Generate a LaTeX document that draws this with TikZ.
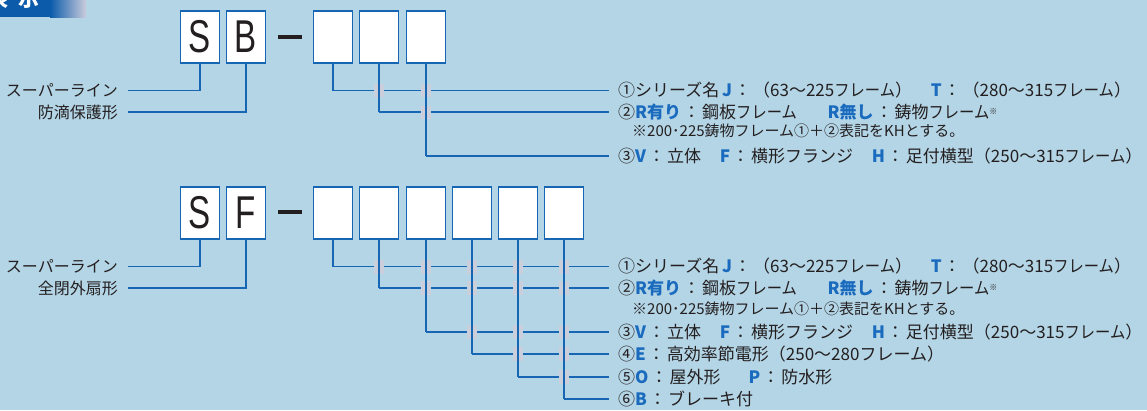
\documentclass[tikz,border=0pt]{standalone}
\usepackage{fontspec}
\setmainfont{Noto Sans CJK JP}
\newfontfamily\boxfont{Liberation Sans}
\definecolor{bg}{HTML}{B4D5E6}
\definecolor{lineblue}{HTML}{1766B4}
\definecolor{letterblue}{HTML}{1A6BBE}
\definecolor{bridgegray}{HTML}{CBCFDC}
\definecolor{txt}{HTML}{231F20}
\definecolor{bannerblue}{HTML}{0B5BAA}
\definecolor{bannerend}{HTML}{CACCDC}
\newcommand{\bl}[1]{{\color{letterblue}\bfseries #1}}
\newcommand{\boxtxt}[1]{\scalebox{0.72}[1]{\boxfont\fontsize{46}{46}\selectfont #1}}
\newcommand{\gap}[1]{\hspace{#1em}}
\newcommand{\cl}{\hspace{2pt}：\hspace{2pt}}
\newcommand{\fr}{\scalebox{0.9}[1]{フレーム}}
\newcommand{\supmark}{\raisebox{4pt}{\fontsize{8}{8}\selectfont ※}}
\begin{document}
\begin{tikzpicture}[x=1pt,y=-1pt,
  lbox/.style={draw=lineblue, line width=1.6pt, fill=white, minimum width=39pt, minimum height=52pt, inner sep=0pt, text=txt},
  dashbar/.style={fill=txt, draw=none, minimum width=24pt, minimum height=4pt, inner sep=0pt},
  conn/.style={draw=lineblue, line width=1.8pt},
  bridge/.style={fill=bridgegray, draw=none},
  rlabel/.style={anchor=west, inner xsep=9pt, inner ysep=0pt, text height=12.5pt, text depth=0pt, text=txt, font=\fontsize{17}{17}\selectfont},
  llabel/.style={anchor=east, inner xsep=10pt, inner ysep=0pt, text height=12pt, text depth=0pt, text=txt, font=\fontsize{16}{16}\selectfont},
  note/.style={anchor=west, inner sep=0pt, text=txt, font=\fontsize{15}{15}\selectfont}
]
\useasboundingbox (0,0) rectangle (1147,410);
\fill[bg] (0,0) rectangle (1147,410);
% banner
\begin{scope}
\clip (0,0) rectangle (1147,410);
\fill[bannerblue] (0,0) rectangle (50,17);
\shade[left color=bannerblue, right color=bannerend] (50,0) rectangle (86,17);
\node[anchor=base west, inner sep=0pt, text=white, font=\fontsize{21}{21}\selectfont\bfseries] (ban) at (-13,6) {表\hspace{10pt}示};
\end{scope}

% ---------------- top: SB ----------------
\node[lbox] (s1) at (200,37) {\boxtxt{S}};
\node[lbox] (b1) at (246,37) {\boxtxt{B}};
\node[dashbar] (d1) at (290,37) {};
\node[lbox] (t1) at (333,37) {};
\node[lbox] (t2) at (379,37) {};
\node[lbox] (t3) at (426,37) {};

\node[llabel] (la1) at (128,90.5) {スーパーライン};
\node[llabel] (la2) at (128,112) {防滴保護形};

\node[rlabel] (ra1) at (609,90.5) {①シリーズ名\,\bl{J}\cl（63〜225\fr）\gap{1.1}\bl{T}\cl（280〜315\fr）};
\node[rlabel] (ra2) at (609,112) {②\bl{R有り}\cl 鋼板\fr\gap{1.8}\bl{R無し}\cl 鋳物\fr\supmark};
\node[note] (na) at (632,131) {※200･225鋳物フレーム①＋②表記をKHとする。};
\node[rlabel] (ra3) at (609,156) {③\bl{V}\cl 立体\gap{1.1}\bl{F}\cl 横形フランジ\gap{1.1}\bl{H}\cl 足付横型（250〜315\fr）};

\draw[conn] (la1.east) -| (s1.south);
\draw[conn] (la2.east) -| (b1.south);
% horizontals
\draw[conn] (t1.south |- ra1.west) -- (ra1.west);
\draw[conn] (t2.south |- ra2.west) -- (ra2.west);
\draw[conn] (t3.south |- ra3.west) -- (ra3.west);
% bridges
\fill[bridge] (t2.south |- ra1.west) ++(-5,-6.5) rectangle ++(10,13);
\fill[bridge] (t3.south |- ra1.west) ++(-5,-6.5) rectangle ++(10,13);
\fill[bridge] (t3.south |- ra2.west) ++(-5,-6.5) rectangle ++(10,13);
% verticals
\draw[conn] (t1.south) -- (t1.south |- ra1.west);
\draw[conn] (t2.south) -- (t2.south |- ra2.west);
\draw[conn] (t3.south) -- (t3.south |- ra3.west);

% ---------------- bottom: SF ----------------
\node[lbox] (s2) at (200,213) {\boxtxt{S}};
\node[lbox] (f2) at (246,213) {\boxtxt{F}};
\node[dashbar] (d2) at (290,212) {};
\node[lbox] (u1) at (333,213) {};
\node[lbox] (u2) at (379,213) {};
\node[lbox] (u3) at (426,213) {};
\node[lbox] (u4) at (472,213) {};
\node[lbox] (u5) at (518,213) {};
\node[lbox] (u6) at (564,213) {};

\node[llabel] (lb1) at (128,266.5) {スーパーライン};
\node[llabel] (lb2) at (128,288) {全閉外扇形};

\node[rlabel] (rb1) at (609,266.5) {①シリーズ名\,\bl{J}\cl（63〜225\fr）\gap{1.1}\bl{T}\cl（280〜315\fr）};
\node[rlabel] (rb2) at (609,288) {②\bl{R有り}\cl 鋼板\fr\gap{1.8}\bl{R無し}\cl 鋳物\fr\supmark};
\node[note] (nb) at (632,308.5) {※200･225鋳物フレーム①＋②表記をKHとする。};
\node[rlabel] (rb3) at (609,332) {③\bl{V}\cl 立体\gap{1.1}\bl{F}\cl 横形フランジ\gap{1.1}\bl{H}\cl 足付横型（250〜315\fr）};
\node[rlabel] (rb4) at (609,354) {④\bl{E}\cl 高効率節電形（250〜280フレーム）};
\node[rlabel] (rb5) at (609,377) {⑤\bl{O}\cl 屋外形\gap{1.65}\bl{P}\cl 防水形};
\node[rlabel] (rb6) at (609,399) {⑥\bl{B}\cl ブレーキ付};

\draw[conn] (lb1.east) -| (s2.south);
\draw[conn] (lb2.east) -| (f2.south);
% horizontals
\foreach \i in {1,...,6}
  \draw[conn] (u\i.south |- rb\i.west) -- (rb\i.west);
% bridges
\foreach \rw/\vlist in {1/{2,3,4,5,6}, 2/{3,4,5,6}, 3/{4,5,6}, 4/{5,6}, 5/{6}}
  \foreach \vc in \vlist
    \fill[bridge] (u\vc.south |- rb\rw.west) ++(-5,-7) rectangle ++(10,14);
% verticals
\foreach \i in {1,...,6}
  \draw[conn] (u\i.south) -- (u\i.south |- rb\i.west);
\end{tikzpicture}
\end{document}
